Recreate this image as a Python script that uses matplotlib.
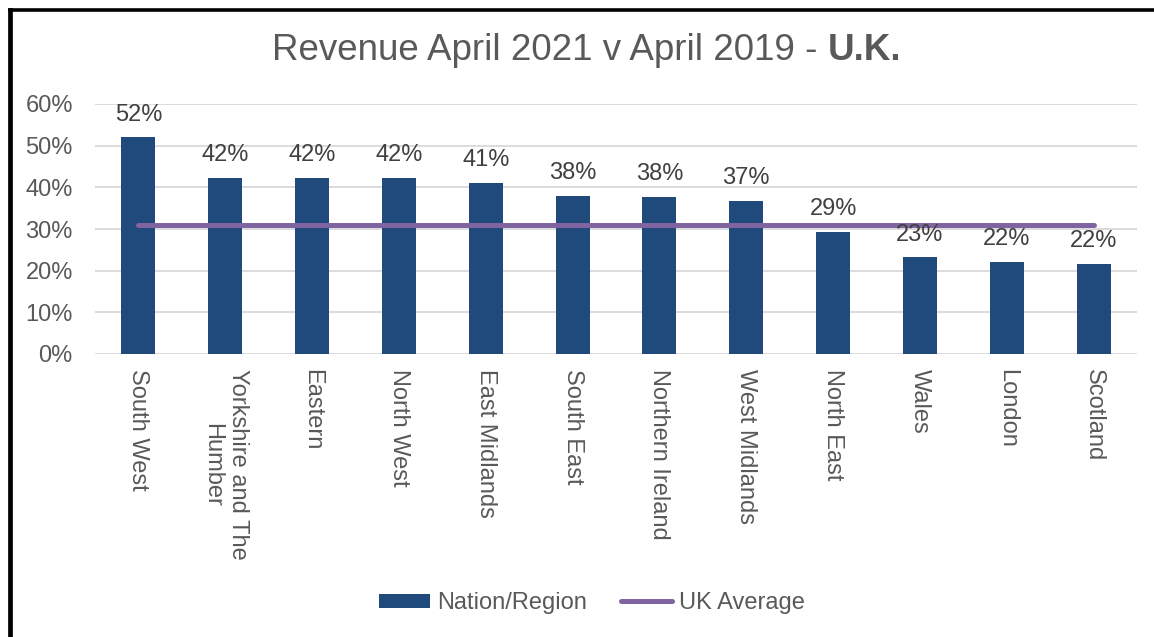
import matplotlib
matplotlib.use("Agg")
import matplotlib.pyplot as plt
from matplotlib.lines import Line2D

regions = ["South West", "Yorkshire and The\nHumber", "Eastern", "North West",
           "East Midlands", "South East", "Northern Ireland", "West Midlands",
           "North East", "Wales", "London", "Scotland"]
revenue = [0.52, 0.422, 0.422, 0.422, 0.411, 0.379, 0.377, 0.367,
           0.293, 0.232, 0.221, 0.216]
uk_average = [0.31] * len(regions)
y_ticks = [0.0, 0.1, 0.2, 0.3, 0.4, 0.5, 0.6]

BAR = "#214A7C"
LINE = "#8064A2"
TEXT = "#595959"
LABEL = "#404040"
GRID = "#D9D9D9"

plt.rcParams["font.family"] = ["Liberation Sans", "DejaVu Sans"]

fig = plt.figure(figsize=(11.54, 6.37), dpi=100)
ax = fig.add_axes([95 / 1154, 1 - 354 / 637, (1137 - 95) / 1154, 250 / 637])

x = list(range(len(regions)))
bars = ax.bar(x, revenue, width=0.39, color=BAR, zorder=2, label="Nation/Region")
line, = ax.plot(x, uk_average, color=LINE, lw=3.6, solid_capstyle="round",
                zorder=3, label="UK Average")

# value labels above the bars
for xi, v in zip(x, revenue):
    ax.annotate(f"{v:.0%}", (xi, v), xytext=(0, 12), textcoords="offset points",
                ha="center", va="baseline", fontsize=17, color=LABEL, zorder=4)

ax.set_xlim(-0.5, len(regions) - 0.5)
ax.set_ylim(0, 0.6)
ax.set_yticks(y_ticks)
ax.set_yticklabels([f"{t:.0%}" for t in y_ticks])
ax.set_xticks(x)
ax.set_xticklabels(regions, rotation=270, ha="center", va="top",
                   multialignment="center")
ax.tick_params(axis="y", length=0, pad=16, labelsize=17, labelcolor=TEXT)
ax.tick_params(axis="x", length=0, pad=11, labelsize=17, labelcolor=TEXT)
ax.grid(axis="y", color=GRID, lw=1.3, zorder=0)
ax.set_axisbelow(True)
for s in ax.spines.values():
    s.set_visible(False)

# title: regular part + bold part, centred together
ty = 1 - 51 / 637
t1 = fig.text(0, ty, "Revenue April 2021 v April 2019 - ", fontsize=26.5,
              color=TEXT, ha="left", va="center")
t2 = fig.text(0, ty, "U.K.", fontsize=26.5, color=TEXT, fontweight="bold",
              ha="left", va="center")
fig.canvas.draw()
r = fig.canvas.get_renderer()
w1 = t1.get_window_extent(r).width / 1154
w2 = t2.get_window_extent(r).width / 1154
x0 = 587 / 1154 - (w1 + w2) / 2
t1.set_x(x0)
t2.set_x(x0 + w1)

fig.legend([bars, line], ["Nation/Region", "UK Average"], loc="center",
           bbox_to_anchor=(592 / 1154, 1 - 603 / 637), ncol=2,
           frameon=False, fontsize=17, labelcolor=TEXT, handlelength=2.16,
           handleheight=0.55, handletextpad=0.3, columnspacing=1.44)

# frame (top and left edges visible in the crop)
fig.add_artist(Line2D([9.5 / 1154, 9.5 / 1154], [0, 1 - 9.5 / 637],
                      transform=fig.transFigure, color="black", lw=3.4,
                      solid_capstyle="projecting"))
fig.add_artist(Line2D([9.5 / 1154, 1], [1 - 9.5 / 637, 1 - 9.5 / 637],
                      transform=fig.transFigure, color="black", lw=2.6,
                      solid_capstyle="projecting"))

fig.savefig("out.png", dpi=100, facecolor="white")
